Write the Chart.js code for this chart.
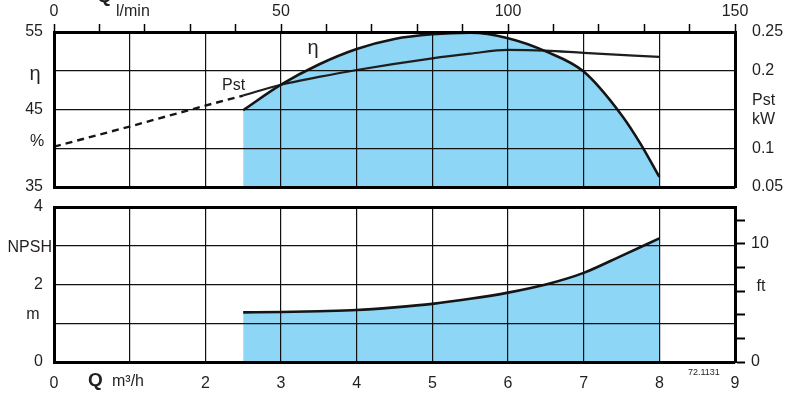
<!DOCTYPE html>
<html>
<head>
<meta charset="utf-8">
<script src="https://cdn.jsdelivr.net/npm/chart.js@4.4.1/dist/chart.umd.min.js"></script>
<style>
  body { margin: 0; background: #fff; }
  #wrap { position: relative; width: 791px; height: 395px; }
  canvas { position: absolute; left: 0; }
  #top { top: 0; }
  #bottom { top: 197px; }
</style>
</head>
<body>
<div id="wrap">
  <canvas id="top" width="791" height="197"></canvas>
  <canvas id="bottom" width="791" height="198"></canvas>
</div>
<script>
// flow in m3/h
const etaFlow = [2.5, 3, 3.5, 4, 4.5, 5, 5.5, 6, 6.5, 7, 7.5, 7.75, 8];
const etaValues = [44.9, 48.2, 50.8, 52.8, 54.1, 54.7, 54.9, 54.2, 52.5, 49.9, 44.3, 40.6, 36.3];

const pstFlow = [2.5, 3, 3.5, 4, 5, 5.5, 6, 6.5, 7, 8];
const pstValues = [0.168, 0.182, 0.192, 0.201, 0.216, 0.222, 0.227, 0.226, 0.223, 0.218];
const pstDashFlow = [0, 1, 2, 2.5];
const pstDashValues = [0.102, 0.128, 0.155, 0.168];

const npshFlow = [2.5, 3, 3.5, 4, 4.5, 5, 5.5, 6, 6.5, 7, 7.5, 8];
const npshValues = [1.28, 1.29, 1.31, 1.34, 1.41, 1.5, 1.63, 1.79, 2.0, 2.3, 2.74, 3.19];

// tick labels
const qTicks = ['0', '', '2', '3', '4', '5', '6', '7', '8', '9'];
const lminTicks = [0, 50, 100, 150];
const etaTicks = [35, 45, 55];
const pstTicks = ['0.05', '0.1', '0.2', '0.25'];
const npshTicks = [0, 2, 4];
const ftTicks = [0, 10];

const textColor = '#231f20';
const gridColor = '#111';
const fillBlue = '#8ed6f6';
const family = '"Liberation Sans", Arial, sans-serif';

Chart.defaults.font.family = family;
Chart.defaults.font.size = 16;
Chart.defaults.color = textColor;

function toPoints(xs, ys) {
  return xs.map((x, i) => ({ x, y: ys[i] }));
}

function txt(ctx, s, x, y, size, align, bold) {
  ctx.font = (bold ? 'bold ' : '') + size + 'px ' + family;
  ctx.textAlign = align || 'left';
  ctx.textBaseline = 'alphabetic';
  ctx.fillText(s, x, y);
}

// fixed axis sizes, no extra padding from labels
function fixW(w) {
  return (s) => { s.width = w; s.paddingTop = 0; s.paddingBottom = 0; };
}
function fixH(h) {
  return (s) => { s.height = h; s.paddingLeft = 0; s.paddingRight = 0; };
}

const border = { color: '#000', width: 3, z: 2 };

const topTexts = {
  id: 'topTexts',
  afterDraw(chart) {
    const { ctx } = chart;
    const { x, y } = chart.scales;
    ctx.save();
    ctx.fillStyle = textColor;
    txt(ctx, 'Q', 97, 2, 19, 'left', true);
    txt(ctx, 'l/min', 116, 16, 16);
    txt(ctx, 'η', 35, y.getPixelForValue(50) + 9, 20, 'center');
    txt(ctx, '%', 37, y.getPixelForValue(40) - 2, 16, 'center');
    txt(ctx, 'Pst', 752, 105, 16);
    txt(ctx, 'kW', 752, 124, 16);
    txt(ctx, 'η', x.getPixelForValue(3.35), y.getPixelForValue(52.2), 20);
    txt(ctx, 'Pst', x.getPixelForValue(2.22), y.getPixelForValue(47.5), 16);
    ctx.restore();
  }
};

const bottomTexts = {
  id: 'bottomTexts',
  afterDraw(chart) {
    const { ctx } = chart;
    const { y } = chart.scales;
    ctx.save();
    ctx.fillStyle = textColor;
    txt(ctx, 'NPSH', 52, y.getPixelForValue(3) + 6, 16, 'right');
    txt(ctx, 'm', 33, y.getPixelForValue(1) - 4, 16, 'center');
    txt(ctx, 'ft', 761, y.getPixelForValue(2) + 6, 16, 'center');
    txt(ctx, 'Q', 88, 189, 19, 'left', true);
    txt(ctx, 'm³/h', 112, 189, 16);
    txt(ctx, '72.1131', 688, 178, 9);
    ctx.restore();
  }
};

const baseOptions = {
  responsive: false,
  devicePixelRatio: 1,
  animation: false,
  layout: { padding: 0, autoPadding: false },
  elements: { point: { radius: 0 } },
  plugins: {
    legend: { display: false },
    tooltip: { enabled: false },
    filler: { drawTime: 'beforeDatasetsDraw' }
  }
};

new Chart(document.getElementById('top'), {
  type: 'line',
  data: {
    datasets: [
      {
        label: 'η',
        data: toPoints(etaFlow, etaValues),
        xAxisID: 'x', yAxisID: 'y',
        borderColor: '#151515', borderWidth: 2.6,
        backgroundColor: fillBlue, fill: 'start',
        cubicInterpolationMode: 'monotone'
      },
      {
        label: 'Pst',
        data: toPoints(pstFlow, pstValues),
        xAxisID: 'x', yAxisID: 'y2',
        borderColor: '#1e1e1e', borderWidth: 2.2,
        fill: false, cubicInterpolationMode: 'monotone'
      },
      {
        label: 'Pst (ext)',
        data: toPoints(pstDashFlow, pstDashValues),
        xAxisID: 'x', yAxisID: 'y2',
        borderColor: '#151515', borderWidth: 2.4, borderDash: [7, 5],
        fill: false
      }
    ]
  },
  options: {
    ...baseOptions,
    scales: {
      x: {
        type: 'linear', position: 'bottom', min: 0, max: 9,
        ticks: { display: false, stepSize: 1 },
        grid: { color: gridColor, lineWidth: 1.2, drawTicks: false, z: 1 },
        border,
        afterFit: fixH(10)
      },
      xTop: {
        type: 'linear', position: 'top', min: 0, max: 150,
        ticks: {
          stepSize: 10, autoSkip: false, maxRotation: 0, padding: 3,
          callback: (v) => (lminTicks.includes(v) ? String(v) : '')
        },
        grid: { drawOnChartArea: false, tickLength: 8, tickColor: '#000', tickWidth: 1.5, z: 1 },
        border,
        afterFit: fixH(32)
      },
      y: {
        position: 'left', min: 35, max: 55,
        ticks: { stepSize: 5, padding: 11, callback: (v) => (etaTicks.includes(v) ? String(v) : '') },
        grid: { color: gridColor, lineWidth: 1.2, drawTicks: false, z: 1 },
        border,
        afterFit: fixW(54)
      },
      y2: {
        position: 'right', min: 0.05, max: 0.25,
        ticks: {
          stepSize: 0.05, padding: 17,
          callback: (v) => {
            const t = String(Math.round(v * 100) / 100);
            return pstTicks.includes(t) ? t : '';
          }
        },
        grid: { drawOnChartArea: false, drawTicks: false },
        border,
        afterFit: fixW(56)
      }
    }
  },
  plugins: [topTexts]
});

new Chart(document.getElementById('bottom'), {
  type: 'line',
  data: {
    datasets: [
      {
        label: 'NPSH',
        data: toPoints(npshFlow, npshValues),
        xAxisID: 'x', yAxisID: 'y',
        borderColor: '#151515', borderWidth: 2.6,
        backgroundColor: fillBlue, fill: 'start',
        cubicInterpolationMode: 'monotone'
      }
    ]
  },
  options: {
    ...baseOptions,
    scales: {
      x: {
        type: 'linear', position: 'bottom', min: 0, max: 9,
        ticks: { stepSize: 1, padding: 12, autoSkip: false, maxRotation: 0, callback: (v) => qTicks[v] },
        grid: { color: gridColor, lineWidth: 1.2, drawTicks: false, z: 1 },
        border,
        afterFit: fixH(33)
      },
      xTop: {
        type: 'linear', position: 'top', min: 0, max: 9,
        ticks: { display: false },
        grid: { drawOnChartArea: false, drawTicks: false },
        border,
        afterFit: fixH(10)
      },
      y: {
        position: 'left', min: 0, max: 4,
        ticks: { stepSize: 1, padding: 11, callback: (v) => (npshTicks.includes(v) ? String(v) : '') },
        grid: { color: gridColor, lineWidth: 1.2, drawTicks: false, z: 1 },
        border,
        afterFit: fixW(54)
      },
      yFt: {
        position: 'right', min: 0, max: 4 * 3.28084,
        ticks: {
          stepSize: 2, includeBounds: false, padding: 6,
          callback: (v) => (ftTicks.includes(v) ? String(v) : '')
        },
        grid: { drawOnChartArea: false, tickLength: 10, tickColor: '#000', tickWidth: 2, z: 1 },
        border,
        afterFit: fixW(56)
      }
    }
  },
  plugins: [bottomTexts]
});
</script>
</body>
</html>
